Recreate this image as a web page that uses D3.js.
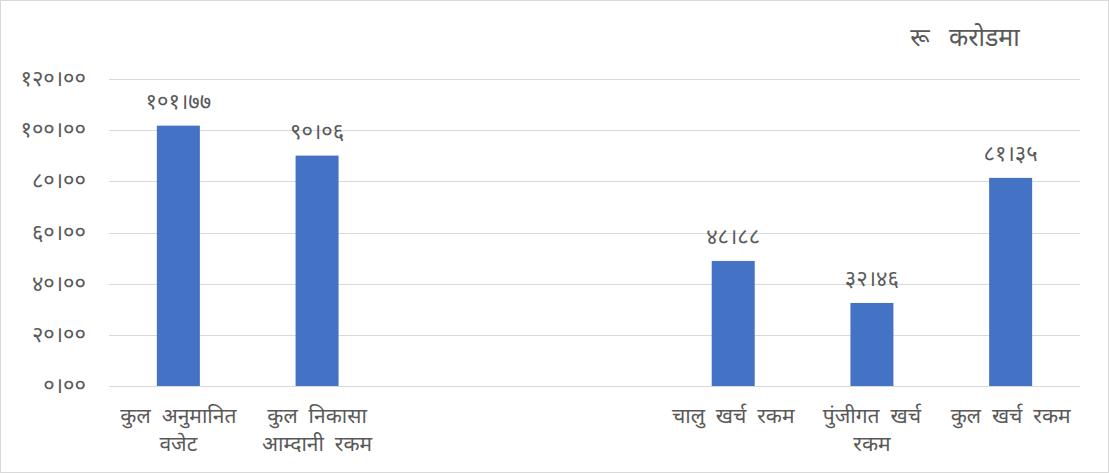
<!DOCTYPE html>
<html>
<head>
<meta charset="utf-8">
<script src="https://cdn.jsdelivr.net/npm/d3@7"></script>
<style>
  html, body { margin: 0; padding: 0; background: #fff; }
  svg { display: block; }
  text { font-family: "Noto Sans", "DejaVu Sans", sans-serif; fill: #595959; }
</style>
</head>
<body>
<svg id="chart" width="1109" height="473"></svg>
<script>
// ---- data ----
const categories = [
  "कुल अनुमानित|वजेट",
  "कुल निकासा|आम्दानी रकम",
  "",
  "",
  "चालु खर्च रकम",
  "पुंजीगत खर्च|रकम",
  "कुल खर्च रकम"
];
const values = [101.77, 90.06, null, null, 48.88, 32.46, 81.35];
const yTicks = [0, 20, 40, 60, 80, 100, 120];
const unitLabel = "रू करोडमा";

// ---- helpers ----
const devDigits = "०१२३४५६७८९";
function toNepali(v) {
  return v.toFixed(2).replace(".", "।").replace(/[0-9]/g, d => devDigits[+d]);
}

const W = 1109, H = 473;
const margin = { left: 109, right: 29, top: 79, bottom: 87 };
const svg = d3.select("#chart");

// border
svg.append("rect")
  .attr("x", 0.5).attr("y", 0.5)
  .attr("width", W - 1).attr("height", H - 1)
  .attr("fill", "#fff").attr("stroke", "#d9d9d9");

const x = d3.scaleBand()
  .domain(d3.range(categories.length))
  .range([margin.left, W - margin.right])
  .paddingInner(0.69).paddingOuter(0.345);

const y = d3.scaleLinear()
  .domain([0, 120])
  .range([H - margin.bottom, margin.top]);

// gridlines
svg.append("g")
  .selectAll("line")
  .data(yTicks.filter(t => t !== 0))
  .join("line")
  .attr("x1", margin.left).attr("x2", W - margin.right)
  .attr("y1", d => Math.round(y(d)) + 0.5).attr("y2", d => Math.round(y(d)) + 0.5)
  .attr("stroke", "#d9d9d9").attr("stroke-width", 1);

// y axis (labels only)
const yAxis = svg.append("g")
  .attr("transform", `translate(${margin.left},0)`)
  .call(d3.axisLeft(y).tickValues(yTicks).tickFormat(toNepali).tickSize(0).tickPadding(23));
yAxis.select(".domain").remove();
yAxis.selectAll("text")
  .attr("font-size", 22)
  .attr("dy", "0.3em")
  .style("fill", "#595959");

// bars
svg.append("g")
  .selectAll("rect")
  .data(values.map((v, i) => ({ v, i })).filter(d => d.v !== null))
  .join("rect")
  .attr("x", d => x(d.i))
  .attr("width", x.bandwidth())
  .attr("y", d => y(d.v))
  .attr("height", d => y(0) - y(d.v))
  .attr("fill", "#4472C4");

// value labels
svg.append("g")
  .selectAll("text")
  .data(values.map((v, i) => ({ v, i })).filter(d => d.v !== null))
  .join("text")
  .attr("x", d => x(d.i) + x.bandwidth() / 2)
  .attr("y", d => y(d.v) - 17)
  .attr("text-anchor", "middle")
  .attr("font-size", 22)
  .text(d => toNepali(d.v));

// x axis
const xAxis = svg.append("g")
  .attr("transform", `translate(0,${Math.round(y(0)) + 0.5})`)
  .call(d3.axisBottom(x).tickSize(0).tickFormat(() => ""));
xAxis.select(".domain")
  .attr("d", `M${margin.left},0H${W - margin.right}`)
  .attr("stroke", "#d9d9d9");
xAxis.selectAll(".tick").each(function (d) {
  const lines = categories[d] ? categories[d].split("|") : [];
  const t = d3.select(this).select("text")
    .attr("y", 0).attr("dy", null)
    .attr("font-size", 21)
    .style("fill", "#595959");
  lines.forEach((ln, k) => {
    t.append("tspan")
      .attr("x", 0)
      .attr("y", 36 + k * 28)
      .text(ln.replace(/ /g, "\u00a0\u00a0"));
  });
});

// unit label
svg.append("text")
  .attr("x", 965).attr("y", 46)
  .attr("text-anchor", "middle")
  .attr("font-size", 25)
  .text(unitLabel.replace(/ /g, "\u00a0\u00a0\u00a0"));
</script>
</body>
</html>
